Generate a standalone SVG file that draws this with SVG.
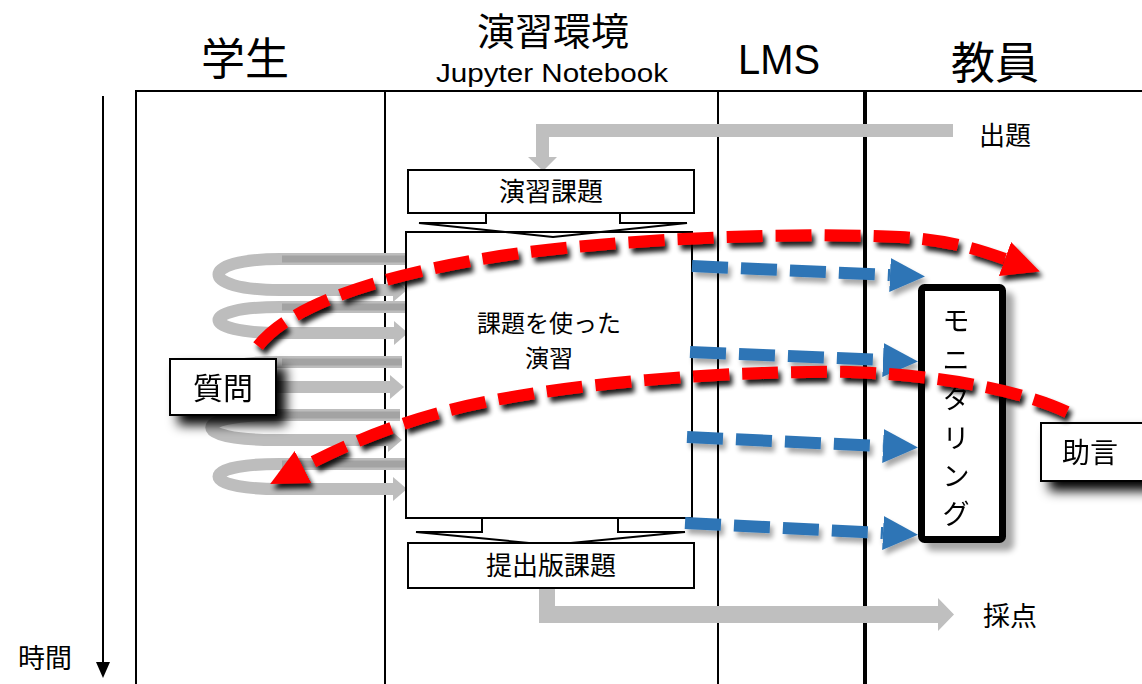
<svg xmlns="http://www.w3.org/2000/svg" width="1142" height="684" viewBox="0 0 1142 684">
<style>
.jp{font-family:"Noto Sans CJK JP","Noto Sans",sans-serif;fill:#000;text-anchor:middle}
.lat{font-family:"Liberation Sans",Arial,sans-serif;fill:#000;text-anchor:middle}
.lane{stroke:#000;stroke-width:2;fill:none}
.box{fill:#fff;stroke:#000;stroke-width:2}
.gray{fill:#BFBFBF}
.red{fill:none;stroke:#FF0000;stroke-width:12;stroke-dasharray:36 13}
.blue{fill:none;stroke:#2E75B6;stroke-width:12;stroke-dasharray:36 13}
.loopf{fill:none;stroke:#BDBDBD;stroke-width:12}
.loopb{fill:none;stroke:#A3A3A3;stroke-width:7}
</style>
<defs>
<filter id="shLine" filterUnits="userSpaceOnUse" x="0" y="0" width="1142" height="684">
<feGaussianBlur in="SourceAlpha" stdDeviation="2.5"/>
<feOffset dx="3" dy="5"/>
<feComponentTransfer><feFuncA type="linear" slope="0.9"/></feComponentTransfer>
<feMerge><feMergeNode/><feMergeNode in="SourceGraphic"/></feMerge>
</filter>
<filter id="shBlue" filterUnits="userSpaceOnUse" x="0" y="0" width="1142" height="684">
<feGaussianBlur in="SourceAlpha" stdDeviation="2.5"/>
<feOffset dx="3" dy="5"/>
<feComponentTransfer><feFuncA type="linear" slope="0.35"/></feComponentTransfer>
<feMerge><feMergeNode/><feMergeNode in="SourceGraphic"/></feMerge>
</filter>
<filter id="shBox" x="-30%" y="-30%" width="170%" height="190%">
<feGaussianBlur in="SourceAlpha" stdDeviation="6"/>
<feOffset dx="9" dy="9"/>
<feComponentTransfer><feFuncA type="linear" slope="1"/></feComponentTransfer>
<feMerge><feMergeNode/><feMergeNode in="SourceGraphic"/></feMerge>
</filter>
<filter id="shMon" x="-30%" y="-10%" width="170%" height="130%">
<feGaussianBlur in="SourceAlpha" stdDeviation="3"/>
<feOffset dx="8" dy="8"/>
<feComponentTransfer><feFuncA type="linear" slope="0.35"/></feComponentTransfer>
<feMerge><feMergeNode/><feMergeNode in="SourceGraphic"/></feMerge>
</filter>
<marker id="hRed" markerUnits="userSpaceOnUse" markerWidth="40" markerHeight="40" refX="0" refY="18" orient="auto">
<path d="M0,0 L37,18 L0,36 Z" fill="#FF0000"/>
</marker>
<marker id="hBlue" markerUnits="userSpaceOnUse" markerWidth="40" markerHeight="40" refX="0" refY="17" orient="auto">
<path d="M0,0 L35,17 L0,34 Z" fill="#2E75B6"/>
</marker>
<marker id="hGray" markerUnits="userSpaceOnUse" markerWidth="20" markerHeight="26" refX="0" refY="12" orient="auto">
<path d="M0,0 L14,12 L0,24 Z" fill="#BDBDBD"/>
</marker>
<marker id="hTime" markerUnits="userSpaceOnUse" markerWidth="16" markerHeight="18" refX="0" refY="7" orient="auto">
<path d="M0,0 L16,7 L0,14 Z" fill="#000"/>
</marker>
</defs>

<g id="lanes">
<line x1="136" y1="91" x2="1142" y2="91" class="lane"/>
<line x1="136" y1="90" x2="136" y2="684" class="lane"/>
<line x1="385" y1="90" x2="385" y2="684" class="lane"/>
<line x1="718" y1="90" x2="718" y2="684" class="lane"/>
<line x1="865" y1="90" x2="865" y2="684" stroke="#000" stroke-width="4"/>
</g>

<g id="headers">
<text class="jp" x="245" y="75" font-size="44">学生</text>
<text class="jp" x="553" y="45" font-size="38">演習環境</text>
<text class="lat" x="552" y="82" font-size="26" textLength="232" lengthAdjust="spacingAndGlyphs">Jupyter Notebook</text>
<text class="lat" x="779" y="74" font-size="42" textLength="82" lengthAdjust="spacingAndGlyphs">LMS</text>
<text class="jp" x="995" y="79" font-size="44">教員</text>
</g>

<g id="time-axis">
<line x1="103" y1="96" x2="103" y2="662" stroke="#000" stroke-width="2" marker-end="url(#hTime)"/>
<text class="jp" x="45" y="668" font-size="27">時間</text>
</g>

<g id="connectors">
<path id="arrow-shutsudai" class="gray" d="M953,124 L536,124 L536,157 L528,157 L543,171 L557,157 L549,157 L549,137 L953,137 Z"/>
<path id="arrow-saiten" class="gray" d="M539,588 L539,623 L938,623 L938,631 L954,614.5 L938,598 L938,606 L555,606 L555,588 Z"/>
<g id="loops">
<path class="loopf" d="M406,259 L280,259 C198,259 198,290 280,290 L393,290" marker-end="url(#hGray)"/>
<path class="loopb" d="M406,259 L282,259"/>
<path class="loopf" d="M406,307 L280,307 C198,307 198,333 280,333 L394,333" marker-end="url(#hGray)"/>
<path class="loopb" d="M406,307 L282,307"/>
<path class="loopf" d="M402,362 L280,362 C198,362 198,387 280,387 L390,387" marker-end="url(#hGray)"/>
<path class="loopb" d="M402,362 L282,362"/>
<path class="loopf" d="M400,415 L275,415 C190,415 190,440 275,440 L388,440" marker-end="url(#hGray)"/>
<path class="loopb" d="M400,415 L277,415"/>
<path class="loopf" d="M405,464 L280,464 C198,464 198,489 280,489 L393,489" marker-end="url(#hGray)"/>
<path class="loopb" d="M405,464 L282,464"/>
</g>
</g>

<g id="node-enshu-kadai">
<rect class="box" x="408" y="170" width="286" height="43"/>
<text class="jp" x="551" y="201" font-size="26">演習課題</text>
</g>

<g id="node-main">
<rect class="box" x="406" y="232" width="286" height="286"/>
<polyline fill="none" stroke="#000" stroke-width="2" points="486,213 486,223 419,223 553,237 687,223 620,223 620,213"/>
<text class="jp" font-size="24"><tspan x="549" y="332">課題を使った</tspan><tspan x="549" y="367">演習</tspan></text>
<polyline fill="none" stroke="#000" stroke-width="2" points="482,518 482,532 416,532 550,545 685,532 618,532 618,518"/>
</g>

<g id="node-teishutsu">
<rect class="box" x="408" y="543" width="286" height="45"/>
<text class="jp" x="551" y="575" font-size="26">提出版課題</text>
</g>

<g id="node-shutsudai"><text class="jp" x="1005" y="145" font-size="26">出題</text></g>
<g id="node-saiten"><text class="jp" x="1010" y="626" font-size="27">採点</text></g>

<g id="node-monitoring" filter="url(#shMon)">
<rect x="921.5" y="287.5" width="81" height="252" rx="3" fill="#fff" stroke="#000" stroke-width="7"/>
<text class="jp" x="956" y="331" font-size="27">モ</text>
<text class="jp" x="956" y="370" font-size="27">ニ</text>
<text class="jp" x="956" y="409" font-size="27">タ</text>
<text class="jp" x="956" y="448" font-size="27">リ</text>
<text class="jp" x="956" y="486" font-size="27">ン</text>
<text class="jp" x="956" y="524" font-size="27">グ</text>
</g>

<g id="blue-arrows" filter="url(#shBlue)">
<path class="blue" d="M692,266 L890,275" marker-end="url(#hBlue)"/>
<path class="blue" d="M690,352 L883,360" marker-end="url(#hBlue)"/>
<path class="blue" d="M687,437 L883,446" marker-end="url(#hBlue)"/>
<path class="blue" d="M685,523 L883,533" marker-end="url(#hBlue)"/>
</g>

<g id="node-shitsumon" filter="url(#shBox)">
<rect class="box" x="170" y="359" width="106" height="56"/>
<text class="jp" x="223" y="399" font-size="30">質問</text>
</g>

<g id="node-jogen" filter="url(#shBox)">
<rect class="box" x="1041" y="423" width="110" height="58"/>
<text class="jp" x="1090" y="463" font-size="28">助言</text>
</g>

<g id="red-arrows" filter="url(#shLine)">
<path class="red" d="M258,346 C290,305 380,275 500,256 C620,238 800,232 900,237 C950,240 980,250 1005,259" marker-end="url(#hRed)"/>
<path class="red" d="M1067,412 C1020,390 940,375 850,372 C740,370 560,382 450,410 C400,423 355,440 303,467" marker-end="url(#hRed)"/>
</g>
</svg>
